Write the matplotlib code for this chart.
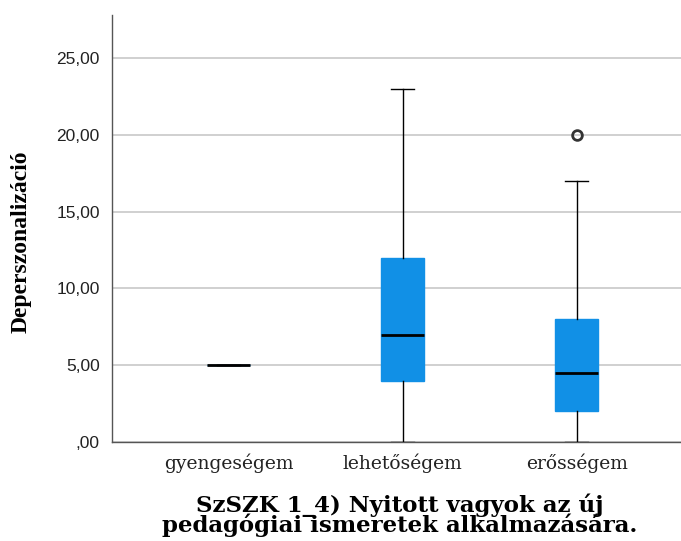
import matplotlib
matplotlib.use("Agg")
import matplotlib.pyplot as plt
from matplotlib.ticker import FuncFormatter

# box statistics
categories = ["gyengeségem", "lehetőségem", "erősségem"]
whisker_low = [5, 0, 0]
q1 = [5, 4, 2]
median = [5, 7, 4.5]
q3 = [5, 12, 8]
whisker_high = [5, 23, 17]
outliers = [[], [], [20]]
y_ticks = [0, 5, 10, 15, 20, 25]

stats = []
for i, name in enumerate(categories):
    stats.append({
        "label": name,
        "whislo": whisker_low[i],
        "q1": q1[i],
        "med": median[i],
        "q3": q3[i],
        "whishi": whisker_high[i],
        "fliers": outliers[i],
    })


def comma_fmt(v, pos):
    s = ("%.2f" % v).replace(".", ",")
    return s[1:] if s.startswith("0") else s  # SPSS writes zero as ",00"


fig = plt.figure(figsize=(6.81, 5.41), dpi=100)
ax = fig.add_axes([0.165, 0.183, 0.835, 0.789])

ax.bxp(
    stats,
    positions=[0, 1, 2],
    widths=0.25,
    patch_artist=True,
    boxprops=dict(facecolor="#1190e6", edgecolor="#1190e6", linewidth=1),
    medianprops=dict(color="black", linewidth=2),
    whiskerprops=dict(color="black", linewidth=1),
    capprops=dict(color="black", linewidth=1),
    capwidths=0.13,
    flierprops=dict(marker="o", markerfacecolor="none", markeredgecolor="#333333",
                    markeredgewidth=2, markersize=7),
    zorder=3,
)

ax.set_xlim(-0.667, 2.6)
ax.set_ylim(0, 27.8)
ax.set_yticks(y_ticks)
ax.yaxis.set_major_formatter(FuncFormatter(comma_fmt))
ax.grid(axis="y", color="#c8c8c8", linewidth=1.2, zorder=0)
ax.set_axisbelow(True)

for s in ["top", "right"]:
    ax.spines[s].set_visible(False)
for s in ["left", "bottom"]:
    ax.spines[s].set_color("#555555")
    ax.spines[s].set_linewidth(1)

ax.tick_params(axis="both", length=0)
ax.tick_params(axis="y", pad=9, labelsize=12.5, labelcolor="#222222")
for lab in ax.get_yticklabels():
    lab.set_family("Liberation Sans")
ax.set_xticks([0, 1, 2])
ax.set_xticklabels(categories, family="DejaVu Serif", fontsize=13.5, color="#222222")
ax.tick_params(axis="x", pad=8)

ax.set_ylabel("Deperszonalizáció", family="Liberation Serif", fontweight="bold",
              fontsize=17, va="center")
ax.yaxis.set_label_coords(-0.16, 0.468)

ax.set_xlabel("SzSZK 1_4) Nyitott vagyok az új\npedagógiai ismeretek alkalmazására.",
              family="DejaVu Serif", fontweight="bold", fontsize=16.5,
              linespacing=0.82, va="top")
ax.xaxis.set_label_coords(0.505, -0.121)

fig.savefig("out.png", dpi=100)
plt.close(fig)
